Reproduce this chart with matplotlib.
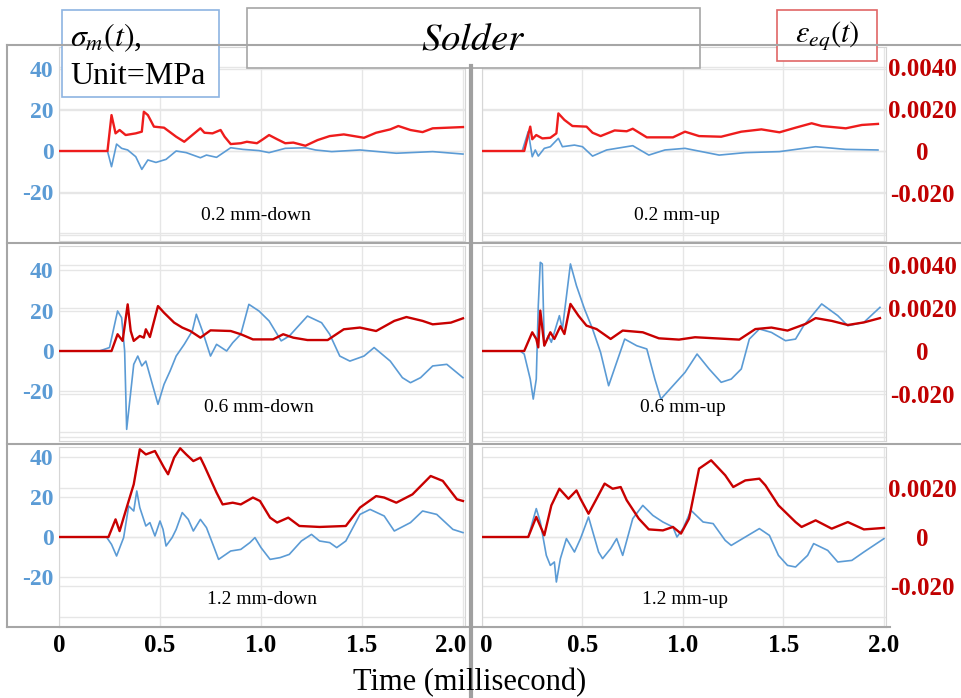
import numpy as np
import matplotlib.pyplot as plt
import matplotlib.transforms as mtransforms
from matplotlib.patches import Rectangle

plt.rcParams['font.family'] = 'serif'
plt.rcParams['font.serif'] = ['Liberation Serif', 'DejaVu Serif']
plt.rcParams['mathtext.fontset'] = 'stix'

W, H = 962, 698

# ---- values: time (ms), sigma_m (MPa), eps_eq ----
# 0.2 mm-down
t_s_02d = [0, 0.24, 0.26, 0.285, 0.31, 0.34, 0.38, 0.41, 0.44, 0.48, 0.53, 0.58, 0.63, 0.70, 0.73,
           0.78, 0.85, 0.91, 0.99, 1.04, 1.12, 1.22, 1.27, 1.35, 1.49, 1.67, 1.85, 2.0]
sig_02d = [0, 0, -7.7, 3.4, 1.3, 0.5, -2.8, -9.0, -4.4, -5.6, -4.1, 0, -0.8, -3.3, -2.0,
           -3.1, 1.6, 0.8, 0.2, -0.8, 1.3, 1.6, 0.5, -0.3, 0.5, -1.1, -0.3, -1.5]
t_e_02d = [0, 0.24, 0.26, 0.28, 0.30, 0.33, 0.38, 0.41, 0.42, 0.44, 0.47, 0.52, 0.58, 0.62, 0.66,
           0.70, 0.72, 0.76, 0.80, 0.82, 0.85, 0.90, 0.93, 0.98, 1.01, 1.04, 1.08, 1.12, 1.16, 1.22,
           1.28, 1.34, 1.41, 1.51, 1.57, 1.64, 1.68, 1.74, 1.80, 1.85, 2.0]
eps_02d = np.array([0, 0, 1.71, 0.84, 1.0, 0.76, 0.84, 0.92, 1.87, 1.71, 1.16, 1.11, 0.68, 0.44, 0.76,
                    1.08, 0.87, 0.84, 1.0, 0.68, 0.33, 0.37, 0.44, 0.37, 0.56, 0.76, 0.56, 0.37, 0.40, 0.25,
                    0.52, 0.71, 0.79, 0.63, 0.87, 1.03, 1.19, 1.0, 0.90, 1.08, 1.14]) * 1e-3

# 0.2 mm-up
t_s_02u = [0, 0.2, 0.23, 0.25, 0.265, 0.28, 0.31, 0.34, 0.38, 0.40, 0.46, 0.50, 0.55, 0.62, 0.75,
           0.83, 0.91, 1.01, 1.18, 1.31, 1.48, 1.66, 1.81, 1.97]
sig_02u = [0, 0, 9.5, -2.8, 0.5, -2.5, 1.3, 2.1, 6.2, 2.1, 2.9, 2.1, -2.5, 0.5, 2.6,
           -2.0, 0.5, 1.3, -2.0, -0.8, -0.3, 2.1, 0.8, 0.5]
t_e_02u = [0, 0.21, 0.24, 0.25, 0.27, 0.30, 0.34, 0.37, 0.38, 0.41, 0.45, 0.52, 0.55, 0.59, 0.66,
           0.72, 0.75, 0.82, 0.95, 1.01, 1.08, 1.19, 1.29, 1.39, 1.48, 1.56, 1.64, 1.69, 1.81, 1.89, 1.97]
eps_02u = np.array([0, 0, 1.16, 0.56, 0.76, 0.60, 0.63, 0.84, 1.79, 1.48, 1.19, 1.16, 0.87, 0.71, 0.98,
                    0.94, 1.06, 0.65, 0.65, 0.92, 0.71, 0.68, 0.92, 1.03, 0.89, 1.11, 1.32, 1.19, 1.08,
                    1.24, 1.29]) * 1e-3

# 0.6 mm-down
t_s_06d = [0, 0.20, 0.25, 0.29, 0.31, 0.325, 0.335, 0.37, 0.39, 0.41, 0.43, 0.49, 0.52, 0.55, 0.58,
           0.62, 0.66, 0.68, 0.71, 0.75, 0.78, 0.83, 0.86, 0.90, 0.94, 0.99, 1.04, 1.10, 1.14, 1.20,
           1.23, 1.30, 1.34, 1.39, 1.44, 1.51, 1.56, 1.64, 1.70, 1.74, 1.79, 1.85, 1.92, 2.0]
sig_06d = [0, 0, 1.7, 19.8, 16.5, 0, -38.8, -6.6, -2.5, -7.4, -5.0, -26.4, -16.5, -9.9, -2.5,
           3.3, 9.9, 18.2, 9.9, -2.5, 3.3, 0, 4.1, 8.3, 23.1, 19.8, 14.9, 5.0, 7.4, 14.0,
           17.3, 14.0, 8.3, -2.5, -5.0, -2.5, 1.7, -5.0, -13.2, -15.7, -13.2, -7.4, -6.6, -13.2]
t_e_06d = [0, 0.26, 0.29, 0.315, 0.34, 0.355, 0.37, 0.40, 0.42, 0.43, 0.45, 0.49, 0.52, 0.57, 0.61,
           0.65, 0.70, 0.75, 0.85, 0.90, 0.96, 1.06, 1.11, 1.16, 1.23, 1.33, 1.41, 1.49, 1.57, 1.66,
           1.72, 1.80, 1.85, 1.94, 2.0]
eps_06d = np.array([0, 0, 0.78, 0.47, 2.17, 0.93, 0.47, 0.70, 0.62, 1.01, 0.65, 2.09, 1.78, 1.32, 1.09,
                    0.93, 0.62, 0.96, 0.93, 0.78, 0.54, 0.54, 0.78, 0.62, 0.51, 0.51, 1.01, 1.09, 0.93,
                    1.40, 1.58, 1.40, 1.24, 1.32, 1.52]) * 1e-3

# 0.6 mm-up
t_s_06u = [0, 0.19, 0.21, 0.24, 0.255, 0.27, 0.28, 0.29, 0.30, 0.31, 0.33, 0.345, 0.385, 0.40, 0.44,
           0.47, 0.51, 0.55, 0.59, 0.63, 0.67, 0.71, 0.77, 0.82, 0.86, 0.89, 0.95, 1.01, 1.07, 1.13,
           1.19, 1.24, 1.29, 1.33, 1.38, 1.44, 1.51, 1.56, 1.60, 1.69, 1.77, 1.82, 1.90, 1.98]
sig_06u = [0, 0, -1.5, -13.9, -23.8, -13.9, 22.4, 43.9, 43.1, 2.6, 7.6, 4.3, 17.5, 10.9, 43.1,
           32.3, 20.8, 10.9, -0.7, -17.2, -5.6, 5.9, 2.6, 1.0, -13.9, -23.8, -17.2, -10.6, -1.5, -8.9,
           -15.5, -13.9, -8.9, 5.9, 10.9, 9.2, 5.1, 5.9, 12.5, 23.3, 17.5, 12.5, 14.2, 21.6]
t_e_06u = [0, 0.21, 0.25, 0.27, 0.28, 0.29, 0.31, 0.34, 0.36, 0.39, 0.41, 0.44, 0.48, 0.52, 0.57,
           0.64, 0.70, 0.80, 0.88, 0.98, 1.06, 1.28, 1.36, 1.44, 1.52, 1.61, 1.66, 1.74, 1.82, 1.90, 1.98]
eps_06u = np.array([0, 0, 0.87, 0.56, 0.17, 1.88, 0.25, 0.87, 0.56, 1.15, 0.79, 2.19, 1.64, 1.18, 1.02,
                    0.56, 0.95, 0.87, 0.59, 0.53, 0.64, 0.53, 1.02, 1.09, 0.95, 1.26, 1.53, 1.40, 1.21,
                    1.33, 1.53]) * 1e-3

# 1.2 mm-down
t_s_12d = [0, 0.235, 0.26, 0.285, 0.32, 0.345, 0.37, 0.385, 0.40, 0.43, 0.45, 0.475, 0.50, 0.515, 0.53,
           0.56, 0.58, 0.61, 0.64, 0.665, 0.70, 0.73, 0.765, 0.79, 0.85, 0.90, 0.945, 0.97, 1.0, 1.045,
           1.095, 1.14, 1.20, 1.25, 1.29, 1.34, 1.375, 1.42, 1.49, 1.54, 1.61, 1.66, 1.74, 1.80, 1.87,
           1.95, 2.0]
sig_12d = [0, 0, -3.7, -9.5, -0.3, 15.5, 13.0, 23.0, 14.7, 5.5, 7.2, 0.5, 8.0, 3.8, -4.5,
           -0.3, 3.8, 12.2, 8.8, 3.0, 8.8, 4.7, -4.5, -11.2, -7.0, -6.2, -2.8, -0.3, -5.3, -11.2,
           -10.3, -8.7, -2.0, 1.3, -2.0, -2.8, -5.3, -2.0, 11.3, 13.8, 10.5, 3.0, 7.2, 13.0, 11.3,
           3.8, 2.2]
t_e_12d = [0, 0.245, 0.28, 0.30, 0.335, 0.37, 0.40, 0.43, 0.475, 0.52, 0.54, 0.57, 0.60, 0.63, 0.665,
           0.70, 0.72, 0.78, 0.81, 0.86, 0.90, 0.96, 0.995, 1.045, 1.08, 1.135, 1.19, 1.29, 1.42, 1.49,
           1.57, 1.61, 1.67, 1.75, 1.84, 1.90, 1.97, 2.0]
eps_12d = np.array([0, 0, 0.72, 0.24, 1.20, 2.15, 3.58, 3.37, 3.51, 2.83, 2.56, 3.24, 3.62, 3.37, 3.10,
                    3.24, 2.90, 1.81, 1.33, 1.40, 1.33, 1.61, 1.47, 0.79, 0.59, 0.79, 0.45, 0.41, 0.45,
                    1.20, 1.67, 1.61, 1.40, 1.74, 2.49, 2.29, 1.54, 1.47]) * 1e-3

# 1.2 mm-up
t_s_12u = [0, 0.23, 0.27, 0.29, 0.32, 0.34, 0.36, 0.37, 0.39, 0.42, 0.46, 0.49, 0.53, 0.58, 0.60,
           0.64, 0.67, 0.70, 0.75, 0.80, 0.85, 0.90, 0.95, 0.97, 1.0, 1.04, 1.10, 1.15, 1.21, 1.24,
           1.31, 1.38, 1.43, 1.475, 1.52, 1.56, 1.62, 1.65, 1.72, 1.77, 1.84, 1.90, 2.0]
sig_12u = [0, 0, 14.2, 7.5, -9.2, -14.2, -12.5, -22.5, -10.8, -0.8, -7.5, -0.8, 10.0, -7.5, -10.8,
           -5.8, -0.8, -9.2, 9.2, 15.8, 10.8, 7.5, 5.0, 0, 4.2, 13.3, 7.5, 6.7, -1.7, -4.2,
           0, 4.2, 0.8, -9.2, -14.2, -15.0, -9.2, -3.3, -6.7, -12.5, -11.7, -7.5, -0.8]
t_e_12u = [0, 0.23, 0.27, 0.31, 0.345, 0.385, 0.43, 0.47, 0.49, 0.53, 0.57, 0.61, 0.65, 0.69, 0.72,
           0.78, 0.83, 0.90, 0.95, 0.99, 1.03, 1.08, 1.14, 1.21, 1.25, 1.31, 1.38, 1.41, 1.475, 1.56,
           1.59, 1.66, 1.74, 1.82, 1.90, 2.0]
eps_12u = np.array([0, 0, 0.82, 0.07, 1.29, 1.97, 1.56, 1.90, 1.56, 0.95, 1.56, 2.18, 1.97, 2.04, 1.50,
                    0.75, 0.31, 0.27, 0.41, 0.14, 0.75, 2.79, 3.13, 2.52, 2.04, 2.31, 2.38, 2.11, 1.29,
                    0.61, 0.41, 0.68, 0.34, 0.61, 0.31, 0.37]) * 1e-3

panel_names = ['0.2 mm-down', '0.2 mm-up', '0.6 mm-down', '0.6 mm-up', '1.2 mm-down', '1.2 mm-up']
series = [(t_s_02d, sig_02d, t_e_02d, eps_02d), (t_s_02u, sig_02u, t_e_02u, eps_02u),
          (t_s_06d, sig_06d, t_e_06d, eps_06d), (t_s_06u, sig_06u, t_e_06u, eps_06u),
          (t_s_12d, sig_12d, t_e_12d, eps_12d), (t_s_12u, sig_12u, t_e_12u, eps_12u)]

x_ticks = [0, 0.5, 1.0, 1.5, 2.0]
x_ticklabels = ['0', '0.5', '1.0', '1.5', '2.0']
sig_ticks = [-40, -20, 0, 20, 40]
sig_ticklabels = ['', '-20', '0', '20', '40']
eps_ticks = [-0.004, -0.002, 0, 0.002, 0.004]
eps_ticklabels = ['', '-0.020', '0', '0.0020', '0.0040']

# layout in pixels
cols = [(59, 465), (482, 886)]
# top, bottom, zero line, px per MPa, px per 0.001 strain
rows = [(47, 241, 151, 2.04, 21.0), (246, 441, 351, 2.02, 21.5), (447, 627, 537, 2.0, 24.5)]
label_pos = [(256, 215), (677, 215), (259, 407), (683, 407), (262, 600), (685, 600)]
red_cols = ['#ee1c1c', '#c80000', '#c80000']
blue = '#5b9bd5'
grid_c = '#e6e6e6'

fig = plt.figure(figsize=(W / 100, H / 100), dpi=100)


def frac(x0, y0, x1, y1):
    return [x0 / W, 1 - y1 / H, (x1 - x0) / W, (y1 - y0) / H]


for i, (ts, sig, te, eps) in enumerate(series):
    r, c = divmod(i, 2)
    x0, x1 = cols[c]
    y0, y1, z, ks, ke = rows[r]
    ax = fig.add_axes(frac(x0, y0, x1, y1))
    ax2 = ax.twinx()

    ax.plot(ts, sig, color=blue, lw=1.2, zorder=3)
    ax2.plot(te, eps, color=red_cols[r], lw=1.7)

    ax.set_xticks(x_ticks)
    ax.set_yticks(sig_ticks)
    ax2.set_yticks(eps_ticks)
    ax.set_xlim(0, 2.01)
    ax.set_ylim(-(y1 - z) / ks, (z - y0) / ks)
    ax2.set_ylim(-(y1 - z) / ke * 1e-3, (z - y0) / ke * 1e-3)

    ax.grid(True, color=grid_c, lw=1)
    ax.set_axisbelow(True)
    for e in eps_ticks:
        ax.axhline(e * 1e3 * ke / ks, color=grid_c, lw=1, zorder=0.5)

    ax.tick_params(length=0)
    ax2.tick_params(length=0)
    if c == 0:
        ax.set_yticklabels(sig_ticklabels, fontsize=17, fontweight='bold', color=blue)
        ax.tick_params(axis='y', pad=4)
        ax2.set_yticklabels([])
    else:
        ax.set_yticklabels([])
        ax2.set_yticklabels(eps_ticklabels, fontsize=18, fontweight='bold', color='#c00000')
        for lbl in ax2.get_yticklabels():
            lbl.set_ha('center')
        ax2.tick_params(axis='y', pad=26)
    if r == 2:
        ax.set_xticklabels(x_ticklabels, fontsize=18, fontweight='bold')
        ax.tick_params(axis='x', pad=5)
        lbls = ax.get_xticklabels()
        if c == 0:
            lbls[-1].set_transform(lbls[-1].get_transform() +
                                   mtransforms.ScaledTranslation(-12 / 100, 0, fig.dpi_scale_trans))
        else:
            lbls[0].set_transform(lbls[0].get_transform() +
                                  mtransforms.ScaledTranslation(4 / 100, 0, fig.dpi_scale_trans))
    else:
        ax.tick_params(labelbottom=False)

    for s in ax.spines.values():
        s.set_color('#d6d6d6')
    for s in ax2.spines.values():
        s.set_visible(False)

# frame, dividers, boxes and texts
ov = fig.add_axes([0, 0, 1, 1], zorder=10)
ov.set_xlim(0, W)
ov.set_ylim(H, 0)
ov.axis('off')

frame = '#a6a6a6'
ov.plot([7, 962], [45, 45], color=frame, lw=1.5)
ov.plot([7, 7], [45, 627], color=frame, lw=1.5)
ov.plot([7, 962], [243, 243], color=frame, lw=1.5)
ov.plot([7, 962], [444, 444], color=frame, lw=1.5)
ov.plot([7, 890], [627, 627], color=frame, lw=1.5)
ov.plot([471, 471], [66, 698], color='#a0a0a0', lw=3)

for i, name in enumerate(panel_names):
    ov.text(label_pos[i][0], label_pos[i][1], name, fontsize=14, ha='center', va='center')

ov.add_patch(Rectangle((62, 10), 157, 87, facecolor='white', edgecolor='#8db4e2', lw=1.2))
ov.text(70, 38, r'$\sigma_m(t)$,', fontsize=23, ha='left', va='center')
ov.text(70, 76, 'Unit=MPa', fontsize=23, ha='left', va='center')

ov.add_patch(Rectangle((247, 8), 453, 60, facecolor='white', edgecolor=frame, lw=1.2))
ov.text(473, 40, r'$Solder$', fontsize=28, ha='center', va='center')

ov.add_patch(Rectangle((777, 10), 100, 51, facecolor='white', edgecolor='#e06666', lw=1.2))
ov.text(827, 36, r'$\varepsilon_{eq}(t)$', fontsize=22, ha='center', va='center')

ov.text(470, 683, 'Time (millisecond)', fontsize=22, ha='center', va='center')

fig.savefig('out.png', dpi=100)
